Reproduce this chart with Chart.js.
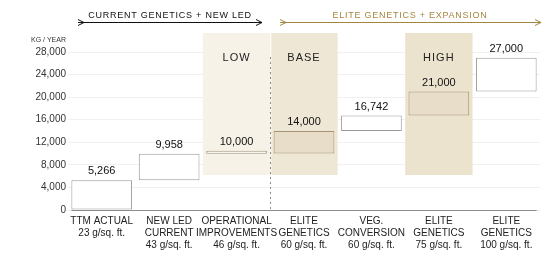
<!DOCTYPE html>
<html>
<head>
<meta charset="utf-8">
<script src="https://cdn.jsdelivr.net/npm/chart.js@4.4.1/dist/chart.umd.min.js"></script>
<style>
  html, body { margin: 0; padding: 0; background: #fff; }
  #wrap { width: 550px; height: 263px; }
</style>
</head>
<body>
<div id="wrap"><canvas id="yieldchart"></canvas></div>
<script>
 // data
 const categories = [
   ['TTM ACTUAL', '23 g/sq. ft.'],
   ['NEW LED', 'CURRENT', '43 g/sq. ft.'],
   ['OPERATIONAL', 'IMPROVEMENTS', '46 g/sq. ft.'],
   ['ELITE', 'GENETICS', '60 g/sq. ft.'],
   ['VEG.', 'CONVERSION', '60 g/sq. ft.'],
   ['ELITE', 'GENETICS', '75 g/sq. ft.'],
   ['ELITE', 'GENETICS', '100 g/sq. ft.']
 ];
 const barStart = [0, 5266, 9958, 10000, 14000, 16742, 21000];
 const barEnd = [5266, 9958, 10000, 14000, 16742, 21000, 27000];
 const yTicks = [0, 4000, 8000, 12000, 16000, 20000, 24000, 28000];
 const scenarios = ['', '', 'LOW', 'BASE', '', 'HIGH', ''];

 // styles
 const FONT = '"Liberation Sans", Arial, Helvetica, sans-serif';
 const fills = ['#fff', '#fff', '#fff', '#e7ddc8', '#fff', '#e7ddc8', '#fff'];
 const borders = ['#9a9a9a', '#9a9a9a', '#a39478', '#a39478', '#9a9a9a', '#a39478', '#9a9a9a'];
 const shadeColors = { 2: '#f7f2e8', 3: '#efe7d6', 5: '#ece3cf' };
 const gold = '#a3873f';

 const extras = {
   id: 'extras',
   beforeDatasetsDraw(chart) {
     const { ctx, chartArea, scales: { x, y } } = chart;
     const half = (x.getPixelForValue(1) - x.getPixelForValue(0)) / 2;
     ctx.save();
     // shaded scenario columns
     Object.keys(shadeColors).forEach(k => {
       const i = Number(k);
       const cx = x.getPixelForValue(i);
       const top = chartArea.top - 19;
       const bot = y.getPixelForValue(6200);
       ctx.fillStyle = shadeColors[k];
       ctx.fillRect(cx - half + (i === 3 ? 1 : 0), top, half * 2 - (i === 3 ? 1 : 0), bot - top);
     });
     // dashed divider
     const dx = Math.round(x.getPixelForValue(2) + half) + 0.5;
     ctx.strokeStyle = '#8a8a8a';
     ctx.lineWidth = 1;
     ctx.setLineDash([2, 3]);
     ctx.beginPath();
     ctx.moveTo(dx, chartArea.top + 5);
     ctx.lineTo(dx, chartArea.bottom);
     ctx.stroke();
     ctx.setLineDash([]);
     // x axis line spanning the bars
     const bars = chart.getDatasetMeta(0).data;
     const y0 = Math.round(y.getPixelForValue(0)) + 0.5;
     ctx.strokeStyle = '#8c8c8c';
     ctx.beginPath();
     ctx.moveTo(bars[0].x - bars[0].width / 2, y0);
     ctx.lineTo(bars[bars.length - 1].x + bars[bars.length - 1].width / 2, y0);
     ctx.stroke();
     ctx.restore();
   },
   afterDatasetsDraw(chart) {
     const { ctx, chartArea, scales: { x, y } } = chart;
     ctx.save();
     ctx.textAlign = 'center';
     ctx.textBaseline = 'middle';

     // value labels
     ctx.fillStyle = '#111';
     ctx.font = '11px ' + FONT;
     barEnd.forEach((v, i) => {
       const top = Math.min(y.getPixelForValue(v), y.getPixelForValue(barStart[i]) - 3);
       ctx.fillText(v.toLocaleString('en-US'), x.getPixelForValue(i), top - 9);
     });

     // scenario labels
     ctx.font = '11px ' + FONT;
     ctx.letterSpacing = '1px';
     ctx.fillStyle = '#222';
     scenarios.forEach((s, i) => {
       if (s) ctx.fillText(s, x.getPixelForValue(i), chartArea.top + 6);
     });

     // group headers with arrows
     const groups = [
       { text: 'CURRENT GENETICS + NEW LED', x0: 78, x1: 262, tx: 170, color: '#111' },
       { text: 'ELITE GENETICS + EXPANSION', x0: 280, x1: 541, tx: 410, color: gold }
     ];
     ctx.font = '9px ' + FONT;
     ctx.letterSpacing = '0.75px';
     groups.forEach(g => {
       ctx.fillStyle = g.color;
       ctx.strokeStyle = g.color;
       ctx.lineWidth = 1;
       ctx.fillText(g.text, g.tx, 16);
       ctx.beginPath();
       ctx.moveTo(g.x0, 22.5);
       ctx.lineTo(g.x1, 22.5);
       [g.x0, g.x1 - 6].forEach(ax => {
         ctx.moveTo(ax, 19.5);
         ctx.lineTo(ax + 6, 22.5);
         ctx.lineTo(ax, 25.5);
       });
       ctx.stroke();
     });

     // axis unit
     ctx.letterSpacing = '0px';
     ctx.font = '7px ' + FONT;
     ctx.fillStyle = '#333';
     ctx.textAlign = 'right';
     ctx.fillText('KG / YEAR', 66, 40);
     ctx.restore();
   }
 };

 const config = {
   type: 'bar',
   data: {
     labels: categories,
     datasets: [{
       data: barStart.map((s, i) => [s, barEnd[i]]),
       backgroundColor: fills,
       borderColor: borders,
       borderWidth: 1,
       borderSkipped: false,
       minBarLength: 3,
       barPercentage: 0.9,
       categoryPercentage: 1
     }]
   },
   options: {
     responsive: true,
     maintainAspectRatio: false,
     animation: false,
     layout: { padding: { top: 52, right: 10, left: 0, bottom: 0 } },
     scales: {
       x: {
         grid: { display: false, drawTicks: false },
         border: { display: false },
         ticks: {
           color: '#222',
           padding: 5,
           font: { family: FONT, size: 10, lineHeight: 1.2 },
           maxRotation: 0,
           autoSkip: false
         },
         afterFit(s) { s.height = 53; }
       },
       y: {
         min: 0,
         max: 28000,
         afterBuildTicks(s) { s.ticks = yTicks.map(v => ({ value: v })); },
         grid: { color: '#f0f0f0', drawTicks: false },
         border: { display: false },
         ticks: {
           color: '#333',
           padding: 2,
           font: { family: FONT, size: 10 },
           callback: v => v.toLocaleString('en-US')
         },
         afterFit(s) { s.width = 68; }
       }
     },
     plugins: {
       legend: false,
       tooltip: { enabled: false }
     }
   },
   plugins: [extras]
 };

 const myChart = new Chart(document.getElementById('yieldchart'), config);
</script>
</body>
</html>
